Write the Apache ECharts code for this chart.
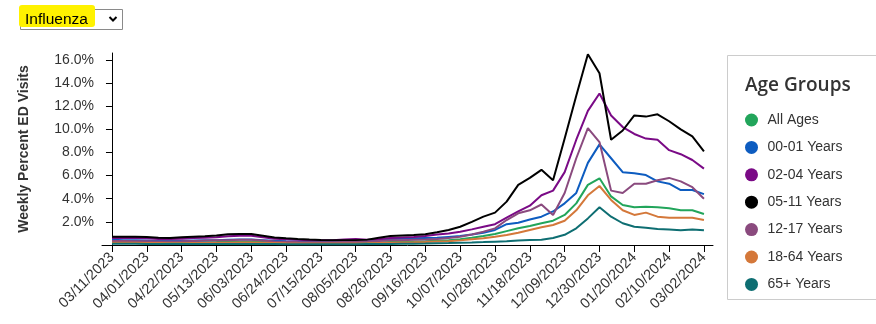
<!DOCTYPE html>
<html>
<head>
<meta charset="utf-8">
<script src="https://cdn.jsdelivr.net/npm/echarts@6/dist/echarts.min.js"></script>
<style>
html,body{margin:0;padding:0;background:#fff;}
#chart{width:876px;height:324px;}
</style>
</head>
<body>
<div id="chart"></div>
<script>
var weeks = ["03/11/2023","03/18/2023","03/25/2023","04/01/2023","04/08/2023","04/15/2023","04/22/2023","04/29/2023","05/06/2023","05/13/2023","05/20/2023","05/27/2023","06/03/2023","06/10/2023","06/17/2023","06/24/2023","07/01/2023","07/08/2023","07/15/2023","07/22/2023","07/29/2023","08/05/2023","08/12/2023","08/19/2023","08/26/2023","09/02/2023","09/09/2023","09/16/2023","09/23/2023","09/30/2023","10/07/2023","10/14/2023","10/21/2023","10/28/2023","11/04/2023","11/11/2023","11/18/2023","11/25/2023","12/02/2023","12/09/2023","12/16/2023","12/23/2023","12/30/2023","01/06/2024","01/13/2024","01/20/2024","01/27/2024","02/03/2024","02/10/2024","02/17/2024","02/24/2024","03/02/2024"];
var tickWeeks = ["03/11/2023","04/01/2023","04/22/2023","05/13/2023","06/03/2023","06/24/2023","07/15/2023","08/05/2023","08/26/2023","09/16/2023","10/07/2023","10/28/2023","11/18/2023","12/09/2023","12/30/2023","01/20/2024","02/10/2024","03/02/2024"];
var yTicks = [2,4,6,8,10,12,14,16];

var allAges = [0.28,0.27,0.26,0.25,0.23,0.22,0.22,0.23,0.24,0.25,0.27,0.28,0.28,0.25,0.22,0.2,0.19,0.18,0.18,0.18,0.18,0.19,0.2,0.22,0.25,0.27,0.3,0.33,0.37,0.42,0.49,0.62,0.78,0.95,1.2,1.44,1.64,1.88,2.1,2.6,3.6,5.2,5.77,4.2,3.46,3.26,3.3,3.26,3.17,3.0,3.0,2.68];
var age0001 = [0.45,0.42,0.4,0.38,0.35,0.35,0.36,0.38,0.4,0.42,0.45,0.48,0.48,0.42,0.36,0.32,0.3,0.28,0.27,0.27,0.28,0.3,0.35,0.45,0.52,0.55,0.58,0.6,0.62,0.7,0.78,0.9,1.06,1.3,1.8,1.93,2.2,2.45,2.9,3.6,4.5,7.1,8.7,7.5,6.3,6.2,6.05,5.5,5.3,4.75,4.75,4.4];
var age0204 = [0.6,0.62,0.6,0.58,0.52,0.52,0.55,0.6,0.62,0.68,0.75,0.8,0.8,0.68,0.55,0.5,0.45,0.42,0.4,0.42,0.48,0.52,0.45,0.5,0.6,0.65,0.7,0.78,0.9,1.0,1.15,1.35,1.58,1.8,2.36,2.9,3.4,4.3,4.7,6.3,9.1,11.6,13.1,11.2,10.2,9.6,9.2,9.1,8.2,7.85,7.35,6.6];
var age0511 = [0.72,0.72,0.72,0.7,0.62,0.6,0.68,0.72,0.75,0.82,0.92,0.95,0.95,0.8,0.65,0.58,0.52,0.47,0.43,0.4,0.4,0.42,0.45,0.62,0.78,0.82,0.86,0.92,1.1,1.3,1.58,2.0,2.45,2.8,3.75,5.2,5.8,6.5,5.6,9.2,12.9,16.5,14.85,9.1,9.9,11.2,11.1,11.3,10.7,10.0,9.4,8.1];
var age1217 = [0.35,0.35,0.33,0.32,0.3,0.3,0.32,0.35,0.38,0.4,0.42,0.45,0.45,0.38,0.3,0.27,0.25,0.24,0.23,0.23,0.25,0.27,0.3,0.35,0.4,0.42,0.45,0.48,0.52,0.6,0.72,0.9,1.15,1.44,2.16,2.74,3.0,3.5,2.6,4.5,7.5,10.1,8.9,4.7,4.5,5.3,5.3,5.6,5.8,5.5,5.0,4.0];
var age1864 = [0.2,0.2,0.19,0.18,0.17,0.16,0.16,0.17,0.18,0.19,0.2,0.21,0.21,0.19,0.17,0.15,0.14,0.14,0.13,0.13,0.14,0.14,0.15,0.17,0.19,0.21,0.23,0.26,0.3,0.33,0.4,0.5,0.58,0.72,0.87,1.06,1.3,1.53,1.73,2.1,3.0,4.3,5.1,3.9,3.0,2.6,2.8,2.45,2.36,2.36,2.36,2.16];
var age65 = [0.1,0.1,0.1,0.09,0.09,0.08,0.08,0.08,0.08,0.08,0.09,0.09,0.09,0.08,0.08,0.07,0.07,0.07,0.07,0.07,0.07,0.07,0.08,0.08,0.09,0.1,0.11,0.12,0.15,0.17,0.2,0.22,0.25,0.29,0.33,0.38,0.43,0.45,0.6,0.88,1.44,2.3,3.26,2.45,1.88,1.58,1.5,1.38,1.35,1.27,1.35,1.27];

var groups = [
  {name: "All Ages", data: allAges, color: "#22a55b"},
  {name: "00-01 Years", data: age0001, color: "#0d5cc0"},
  {name: "02-04 Years", data: age0204, color: "#7a0a86"},
  {name: "05-11 Years", data: age0511, color: "#000000"},
  {name: "12-17 Years", data: age1217, color: "#8a4a7e"},
  {name: "18-64 Years", data: age1864, color: "#d4783a"},
  {name: "65+ Years", data: age65, color: "#0e6e72"}
];

var tickIdx = tickWeeks.map(function(w){ return weeks.indexOf(w); });
var font = "'Liberation Sans', Arial, sans-serif";

var chart = echarts.init(document.getElementById('chart'), null, {renderer: 'canvas'});
chart.setOption({
  animation: false,
  backgroundColor: '#fff',
  title: {
    text: 'Age Groups', left: 740, top: 71,
    textStyle: {fontFamily: "'Open Sans', sans-serif", fontWeight: 600, fontSize: 19, color: '#333'}
  },
  legend: {
    orient: 'vertical', left: 740, top: 108,
    itemWidth: 22, itemHeight: 13, itemGap: 13.4, icon: 'circle',
    textStyle: {fontFamily: font, fontSize: 14, color: '#333', lineHeight: 14},
    data: groups.map(function(g){ return g.name; })
  },
  grid: {left: 102, right: 163, top: 53, bottom: 79, containLabel: false},
  xAxis: {
    type: 'value', min: -0.86, max: 51.78,
    axisLine: {show: true, lineStyle: {color: '#000', width: 1}},
    axisTick: {show: true, length: 7, lineStyle: {color: '#000'}, customValues: tickIdx},
    axisLabel: {
      customValues: tickIdx, rotate: 45, margin: 10, fontSize: 14.5, fontFamily: font, color: '#333',
      formatter: function(v){ return weeks[Math.round(v)]; }
    },
    splitLine: {show: false}
  },
  yAxis: {
    type: 'value', min: 0, max: 16.6,
    name: 'Weekly Percent ED Visits', nameLocation: 'middle', nameGap: 71,
    nameTextStyle: {fontFamily: font, fontWeight: 'bold', fontSize: 14, color: '#333'},
    axisLine: {show: true, lineStyle: {color: '#000', width: 1}},
    axisTick: {show: true, length: 6, lineStyle: {color: '#000'}, customValues: yTicks},
    axisLabel: {customValues: yTicks, fontSize: 14, fontFamily: font, color: '#333', margin: 8,
      formatter: function(v){ return v.toFixed(1) + '%'; }},
    splitLine: {show: false}
  },
  series: groups.map(function(g){
    return {
      name: g.name, type: 'line', showSymbol: false, symbol: 'circle',
      color: g.color,
      lineStyle: {width: 2, color: g.color},
      data: g.data.map(function(v, i){ return [i, v]; })
    };
  }),
  graphic: [
    {type: 'rect', shape: {x: 727.5, y: 55.5, width: 200, height: 244}, style: {fill: 'none', stroke: '#cccccc', lineWidth: 1}, silent: true},
    {type: 'rect', shape: {x: 20.5, y: 9.5, width: 102, height: 20}, style: {fill: '#fff', stroke: '#8a8a8a', lineWidth: 1}, silent: true},
    {type: 'rect', shape: {x: 19, y: 5, width: 76, height: 22, r: 3}, style: {fill: '#fff200'}, silent: true},
    {type: 'text', x: 25, y: 19.5, style: {text: 'Influenza', fontFamily: font, fontSize: 15.5, fill: '#000', verticalAlign: 'middle'}, silent: true},
    {type: 'polyline', shape: {points: [[109.5,17],[113,20.5],[116.5,17]]}, style: {stroke: '#000', lineWidth: 2, fill: 'none'}, silent: true}
  ]
});
</script>
</body>
</html>
